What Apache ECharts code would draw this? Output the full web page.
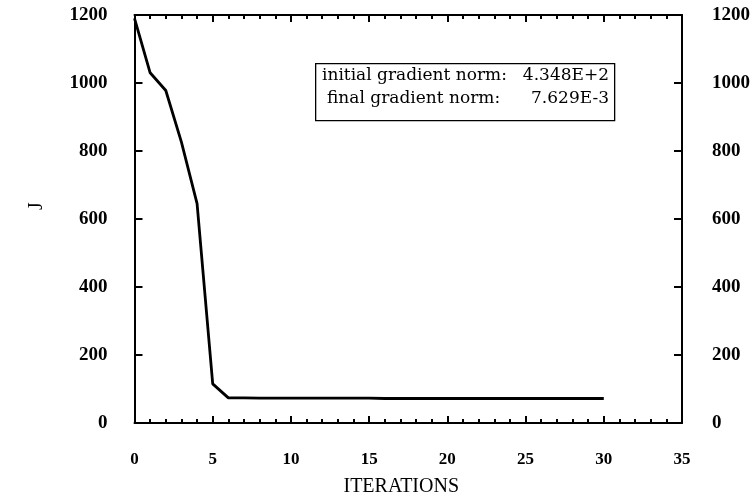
<!DOCTYPE html>
<html>
<head>
<meta charset="utf-8">
<script src="https://cdn.jsdelivr.net/npm/echarts@6/dist/echarts.min.js"></script>
<style>
    html, body { margin: 0; padding: 0; background: #fff; }
    #chart { width: 753px; height: 502px; }
</style>
</head>
<body>
<div id="chart"></div>
<script>
// data
const iterations = [0, 1, 2, 3, 4, 5, 6, 7, 8, 9, 10, 11, 12, 13, 14, 15, 16, 17, 18, 19, 20, 21, 22, 23, 24, 25, 26, 27, 28, 29, 30]
const jValues = [1190, 1030, 978, 826, 645, 115, 74, 74, 73, 73, 73, 73, 73, 73, 73, 73, 72, 72, 72, 72, 72, 72, 72, 72, 72, 72, 72, 72, 72, 72, 72]
const noteLabels = ['initial gradient norm:', 'final gradient norm:']
const noteValues = ['4.348E+2', '7.629E-3']

const serif = '"Liberation Serif", "DejaVu Serif", serif'
const wideSerif = '"DejaVu Serif", serif'

const lineData = function() {
    return iterations.map((x, i) => [x, jValues[i]])
}

const xAxisBase = function(pos, showLabel) {
    return {
        type: 'value',
        position: pos,
        min: 0,
        max: 35,
        interval: 5,
        axisLine: { show: true, onZero: false, lineStyle: { color: '#000', width: 2 } },
        axisTick: { show: true, inside: true, length: 7, lineStyle: { color: '#000', width: 2 } },
        minorTick: { show: true, splitNumber: 5, length: 4, lineStyle: { color: '#000', width: 2 } },
        splitLine: { show: false },
        axisLabel: {
            show: showLabel, margin: 28,
            color: '#000', fontFamily: serif, fontSize: 17, fontWeight: 'bold',
        },
    }
}

const yAxisBase = function(pos) {
    return {
        type: 'value',
        position: pos,
        min: 0,
        max: 1200,
        interval: 200,
        axisLine: { show: true, onZero: false, lineStyle: { color: '#000', width: 2 } },
        axisTick: { show: true, inside: true, length: 8, lineStyle: { color: '#000', width: 2 } },
        splitLine: { show: false },
        axisLabel: {
            margin: pos === 'left' ? 27 : 30,
            color: '#000', fontFamily: serif, fontSize: 19, fontWeight: 'bold',
            formatter: v => String(v),
        },
    }
}

const noteText = function(text, pos) {
    const o = {
        type: 'text',
        top: pos.top,
        style: { text: text, font: '17px ' + wideSerif, fill: '#000' },
    }
    if (pos.left !== undefined) {
        o.left = pos.left
    } else {
        o.right = pos.right
    }
    return o
}

const buildOption = function() {
    const bottomX = xAxisBase('bottom', true)
    bottomX.name = 'ITERATIONS'
    bottomX.nameLocation = 'middle'
    bottomX.nameGap = 54
    bottomX.nameTextStyle = { color: '#000', fontFamily: serif, fontSize: 20, padding: [0, 14, 0, 0] }

    const leftY = yAxisBase('left')
    leftY.name = 'J'
    leftY.nameLocation = 'middle'
    leftY.nameGap = 88
    leftY.nameRotate = 90
    leftY.nameTextStyle = { color: '#000', fontFamily: serif, fontSize: 20, padding: [0, 0, 0, 26] }

    const option = {
        backgroundColor: '#fff',
        animation: false,
        grid: { left: 134.5, right: 71, top: 15, bottom: 76 },
        xAxis: [bottomX, xAxisBase('top', false)],
        yAxis: [leftY, yAxisBase('right')],
        series: [
            {
                type: 'line',
                data: lineData(),
                showSymbol: false,
                lineStyle: { color: '#000', width: 2.8 },
            },
        ],
        graphic: [
            {
                type: 'rect',
                left: 315, top: 63,
                shape: { width: 299, height: 57 },
                style: { fill: '#fff', stroke: '#000', lineWidth: 1.3 },
            },
            noteText(noteLabels[0], { left: 322, top: 67 }),
            noteText(noteValues[0], { right: 753 - 609, top: 67 }),
            noteText(noteLabels[1], { left: 327, top: 90 }),
            noteText(noteValues[1], { right: 753 - 609, top: 90 }),
        ],
    }
    return option
}

const __main = function() {
    const chart = echarts.init(document.getElementById('chart'))
    chart.setOption(buildOption())
}

__main()
</script>
</body>
</html>
